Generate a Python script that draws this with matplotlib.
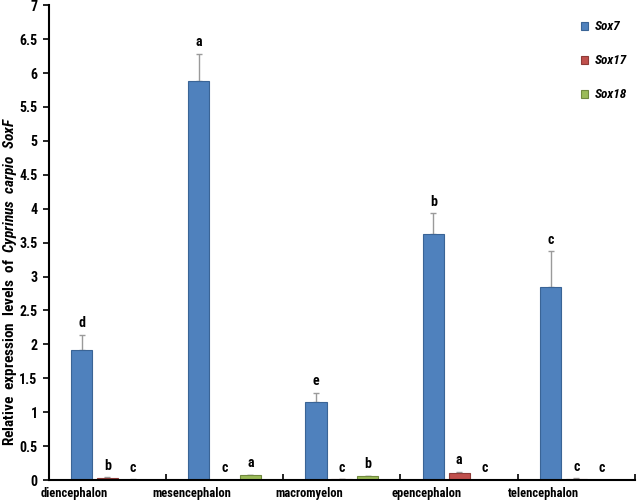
import matplotlib
matplotlib.use("Agg")
import matplotlib.pyplot as plt
import numpy as np

regions = ["diencephalon", "mesencephalon", "macromyelon", "epencephalon", "telencephalon"]
genes = ["Sox7", "Sox17", "Sox18"]

sox7 = [1.92, 5.88, 1.15, 3.62, 2.84]
sox7_err = [0.22, 0.40, 0.13, 0.31, 0.53]
sox17 = [0.035, 0.002, 0.008, 0.11, 0.02]
sox17_err = [0.005, 0.001, 0.003, 0.01, 0.004]
sox18 = [0.006, 0.07, 0.055, 0.001, 0.001]
sox18_err = [0.002, 0.01, 0.008, 0.001, 0.001]

sox7_letters = ["d", "a", "e", "b", "c"]
sox17_letters = ["b", "c", "c", "a", "c"]
sox18_letters = ["c", "a", "b", "c", "c"]

yticks = [0, 0.5, 1, 1.5, 2, 2.5, 3, 3.5, 4, 4.5, 5, 5.5, 6, 6.5, 7]

FONT = ["Roboto Condensed", "DejaVu Sans"]
W = "heavy"
plt.rcParams["font.family"] = FONT
plt.rcParams["font.weight"] = W
plt.rcParams["mathtext.fontset"] = "custom"
plt.rcParams["mathtext.it"] = "Roboto Condensed:italic:heavy"
plt.rcParams["mathtext.rm"] = "Roboto Condensed:heavy"

fig = plt.figure(figsize=(6.38, 5.03), dpi=100)
ax = fig.add_axes([0.0763, 0.0457, 0.919, 0.944])

colors = ["#4F81BD", "#C0504D", "#9BBB59"]
edges = ["#3A6496", "#8E3B38", "#71893F"]
series = [(sox7, sox7_err, sox7_letters), (sox17, sox17_err, sox17_letters),
          (sox18, sox18_err, sox18_letters)]

x = np.arange(len(regions))
width = 0.18
offsets = [-0.22, 0, 0.22]

for i, (vals, errs, letters) in enumerate(series):
    pos = x + offsets[i]
    ax.bar(pos, vals, width, color=colors[i], edgecolor=edges[i], linewidth=0.8,
           label=genes[i], zorder=2)
    ax.errorbar(pos, vals, yerr=[np.zeros(len(vals)), errs], fmt="none",
                ecolor="#9a9a9a", elinewidth=1, capsize=2.5, capthick=1, zorder=1)
    for p, v, e, t in zip(pos, vals, errs, letters):
        ax.text(p, v + e + 0.07, t, ha="center", va="bottom", fontsize=10,
                fontweight=W)

ax.set_xlim(-0.5, len(regions) - 0.5)
ax.set_ylim(0, 7)
ax.set_yticks(yticks)
ax.set_yticklabels([f"{t:g}" for t in yticks], fontsize=10, fontweight=W)

# boundaries as major ticks, labels as minor ticks (shifted left like the original)
ax.set_xticks(np.arange(len(regions) + 1) - 0.5)
ax.set_xticklabels([])
ax.set_xticks(x - 0.28, minor=True)
ax.set_xticklabels(regions, minor=True, fontsize=9, fontweight=W)
ax.tick_params(axis="x", which="minor", length=0, pad=5)
ax.tick_params(axis="x", which="major", direction="in", length=4, width=1.2)
ax.tick_params(axis="y", direction="out", length=4, width=1.2, pad=4)

for s in ["top", "right"]:
    ax.spines[s].set_visible(False)
for s in ["left", "bottom"]:
    ax.spines[s].set_linewidth(1.5)

fig.text(0.015, 0.44,
         r"Relative  expression  levels  of  $Cyprinus\ \ carpio\ \ SoxF$",
         rotation=90, ha="center", va="center", fontsize=11, fontweight=W)

leg = ax.legend(loc="upper right", bbox_to_anchor=(1.0, 0.985), frameon=False,
                prop={"family": FONT, "style": "italic", "weight": W, "size": 9.5},
                handlelength=0.55, handleheight=0.55, labelspacing=1.6, handletextpad=0.5,
                borderaxespad=0.2)

fig.savefig("out.png", dpi=100)
